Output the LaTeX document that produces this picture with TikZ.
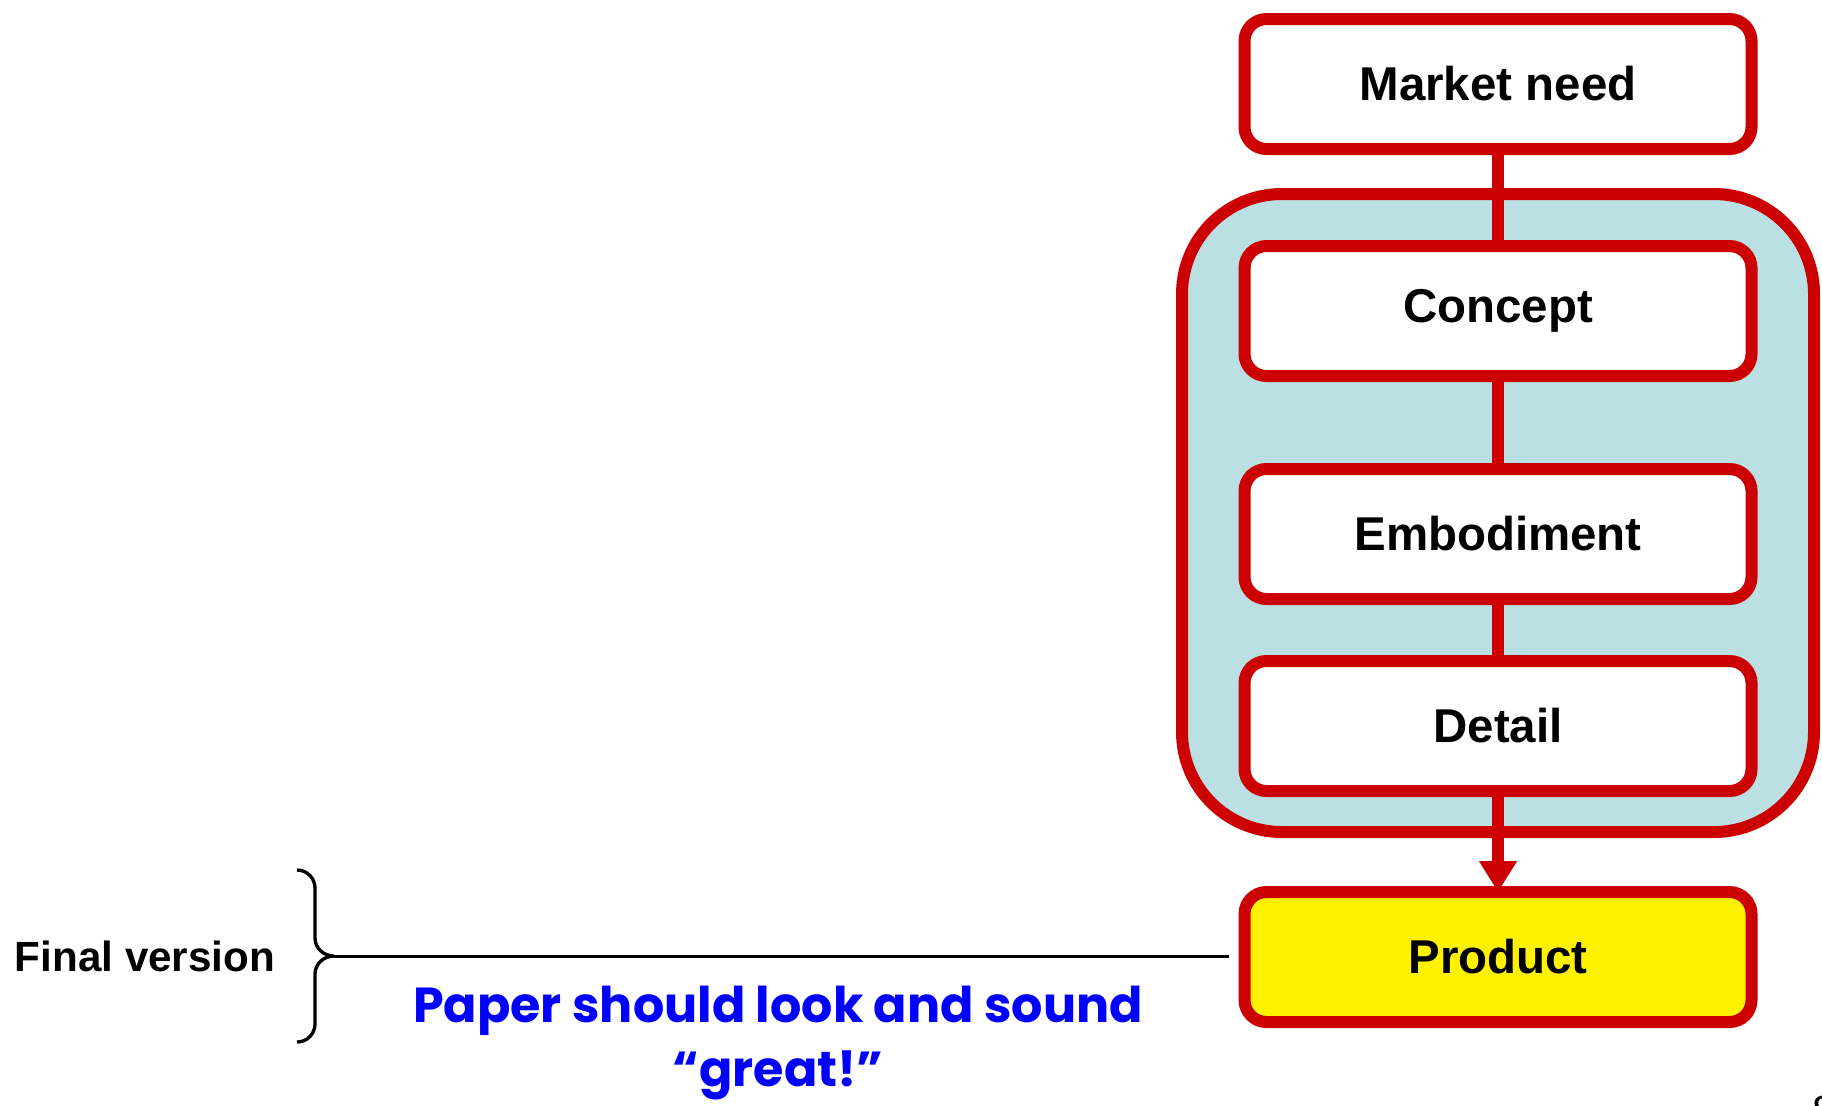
\documentclass[tikz,border=0pt]{standalone}
\usepackage{fontspec}
\setmainfont{Liberation Sans}
\newfontfamily\comicfont{Poppins}
\usetikzlibrary{arrows.meta}
\definecolor{boxred}{RGB}{204,0,0}
\definecolor{stagefill}{RGB}{186,224,228}
\definecolor{noteblue}{RGB}{0,0,255}
\begin{document}
\begin{tikzpicture}[
  stagebox/.style={draw=boxred, line width=0.12cm, fill=white, rounded corners=0.22cm,
    minimum width=5.07cm, minimum height=1.30cm, font=\fontsize{13.5}{16}\selectfont\bfseries},
  link/.style={draw=boxred, line width=0.12cm}]
\useasboundingbox (0,0) rectangle (18.22,-11.05);
\node[draw=boxred, line width=0.12cm, fill=stagefill, rounded corners=1cm,
  minimum width=6.32cm, minimum height=6.38cm] (design) at (14.98,-5.13) {};
\foreach \name/\y/\txt in {market/-0.84/Market need, concept/-3.11/Concept,
    embodiment/-5.34/Embodiment, detail/-7.26/Detail}
  \node[stagebox] (\name) at (14.98,\y) {\txt};
\node[stagebox, fill=yellow] (product) at (14.98,-9.57) {Product};
\foreach \a/\b in {market/concept, concept/embodiment, embodiment/detail}
  \draw[link] (\a) -- (\b);
\draw[link, -{Triangle[width=0.36cm,length=0.31cm]}, shorten >=-0.06cm] (detail) -- (product);
% final version side
\node[font=\fontsize{12}{14}\selectfont\bfseries] (final) at (1.45,-9.56) {Final version};
\coordinate (bracetop) at (2.97,-8.70);
\coordinate (bracebot) at (2.97,-10.42);
\coordinate (bracetip) at (3.34,-9.56);
\draw[line width=0.95pt] (bracetop) to[out=0,in=90] (3.15,-8.88) -- (3.15,-9.38)
  to[out=-90,in=180] (bracetip) to[out=180,in=90] (3.15,-9.74) -- (3.15,-10.24)
  to[out=-90,in=0] (bracebot);
\draw[line width=0.85pt, shorten >=0.1cm] (bracetip) -- (bracetip -| product.west);
\node[font=\comicfont\bfseries\fontsize{14}{18}\selectfont, text=noteblue, align=center]
  (note) at (7.78,-10.43) {Paper should look and sound\\“great!”};
\node[font=\fontsize{12}{14}\selectfont, anchor=north west, inner sep=0] (pagenum) at (18.12,-10.95) {8};
\end{tikzpicture}
\end{document}
